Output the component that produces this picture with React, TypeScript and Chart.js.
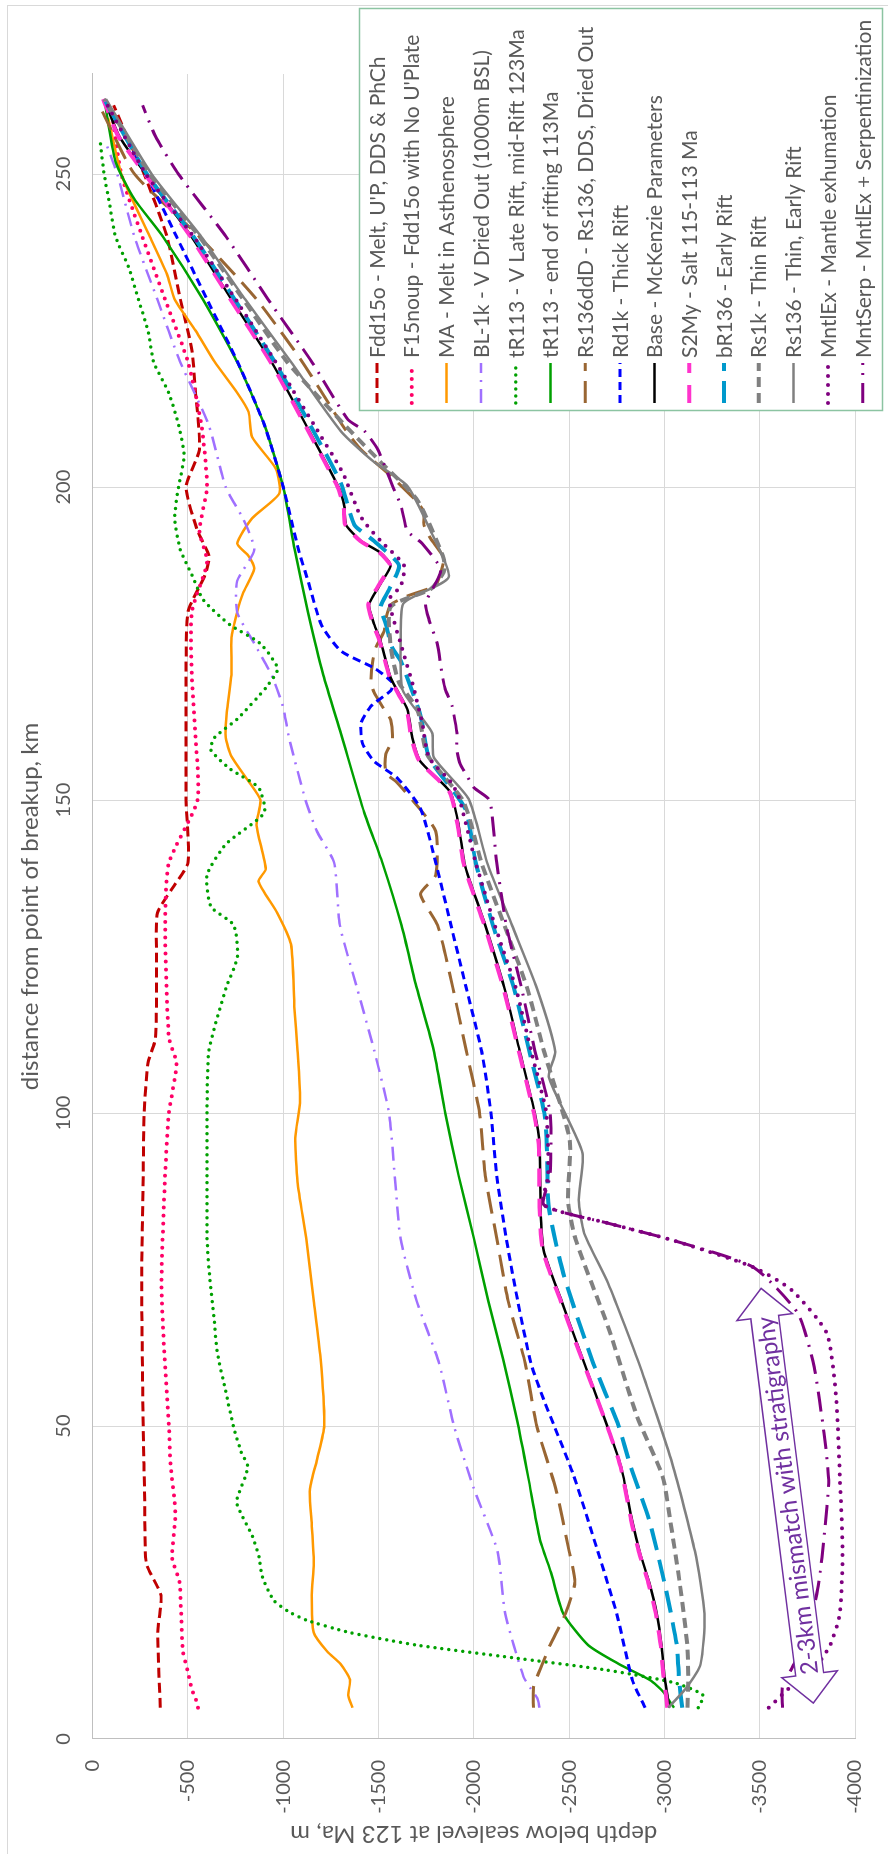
import React, { useEffect, useRef } from "react";
import { Chart, registerables } from "chart.js";

Chart.register(...registerables);

type Pt = [number, number];

// distance from point of breakup (km), depth below sealevel at 123 Ma (m)
const FDD15O: Pt[] = [[5,-355],[17,-341],[23,-358],[28,-282],[38,-273],[50,-265],[73,-257],[90,-265],[100,-270],[108,-290],[112,-330],[125,-335],[132,-340],[136,-420],[140,-500],[150,-490],[165,-490],[180,-500],[186,-590],[189,-610],[193,-550],[200,-490],[206,-560],[215,-540],[222,-520],[230,-460],[240,-390],[250,-270],[256,-180],[261,-110]];
const F15NOUP: Pt[] = [[5,-552],[6.4,-540],[7.7,-523],[9.2,-510],[10.5,-502],[14,-473],[21,-463],[25,-456],[29,-417],[36,-434],[44,-408],[50,-400],[62,-375],[73,-361],[90,-380],[100,-400],[108,-440],[112,-400],[130,-380],[140,-400],[150,-550],[160,-540],[170,-520],[180,-520],[188,-600],[193,-560],[200,-600],[210,-570],[220,-500],[230,-380],[240,-260],[250,-150],[260,-100]];
const MA: Pt[] = [[5,-1363],[7,-1341],[9.5,-1350],[12,-1300],[14,-1230],[17,-1160],[23,-1150],[28,-1160],[34,-1150],[40,-1140],[45,-1180],[50,-1215],[61,-1195],[70,-1160],[80,-1120],[89,-1075],[96,-1063],[102,-1088],[110,-1075],[117,-1058],[127,-1040],[132,-968],[137,-870],[139,-908],[146,-860],[150,-880],[153,-818],[157,-728],[160,-698],[164,-704],[170,-728],[176,-728],[180,-758],[183,-788],[187,-848],[189,-818],[191,-758],[195,-836],[199,-980],[203,-960],[208,-836],[212,-818],[215,-760],[220,-640],[225,-540],[230,-430],[234,-390],[240,-300],[250,-150],[259,-81]];
const BL1K: Pt[] = [[5,-2345],[6.5,-2333],[8,-2300],[10,-2260],[20,-2165],[30,-2124],[40,-2000],[50,-1896],[60,-1818],[70,-1700],[80,-1615],[90,-1585],[100,-1555],[110,-1477],[120,-1387],[130,-1297],[140,-1267],[145,-1177],[150,-1117],[160,-1030],[165,-998],[170,-938],[175,-848],[180,-758],[185,-758],[190,-848],[195,-788],[200,-698],[210,-608],[220,-459],[230,-339],[240,-219],[250,-129],[255,-69]];
const TR113_LATE: Pt[] = [[5,-3178],[7,-3203],[9,-3050],[11,-2700],[13,-2200],[15,-1700],[17,-1350],[19,-1120],[20.4,-1025],[22.2,-949],[26,-889],[29,-873],[32.4,-838],[36.4,-772],[38,-755],[43.4,-814],[45.8,-780],[50,-738],[55.8,-696],[61.7,-654],[67.4,-636],[73.3,-615],[80,-600],[90,-600],[100,-600],[110,-610],[120,-700],[125,-760],[130,-740],[133,-620],[138,-600],[143,-700],[148,-900],[152,-870],[155,-720],[158,-620],[160,-640],[163,-760],[168,-910],[171,-970],[175,-880],[178,-720],[182,-580],[186,-520],[190,-460],[195,-430],[200,-450],[205,-480],[210,-450],[215,-400],[220,-320],[225,-290],[230,-240],[235,-190],[240,-120],[245,-90],[250,-60],[255,-40]];
const TR113_END: Pt[] = [[5,-3050],[7.6,-2992],[9.4,-2925],[12,-2760],[15,-2600],[20,-2470],[26.6,-2405],[32,-2346],[41.7,-2286],[51,-2226],[60.6,-2154],[70,-2076],[80,-2000],[90,-1920],[100,-1850],[110,-1790],[120,-1700],[130,-1620],[140,-1520],[148,-1425],[160.6,-1303],[170,-1210],[180,-1130],[190,-1060],[200,-1000],[210,-900],[220,-758],[230,-578],[240,-369],[246,-219],[252,-120],[262,-60]];
const RS136DDD: Pt[] = [[5,-2313],[8.3,-2313],[12,-2360],[15,-2400],[20,-2480],[25,-2530],[30,-2500],[40,-2430],[50,-2330],[60,-2270],[70,-2180],[80,-2120],[90,-2060],[100,-2030],[110,-1960],[120,-1890],[130,-1810],[135,-1720],[138,-1800],[145,-1800],[149.7,-1686],[153,-1590],[154.3,-1538],[157.3,-1538],[159.6,-1572],[162.8,-1564],[164.5,-1529],[167.2,-1477],[168.8,-1460],[172.2,-1469],[174.4,-1486],[177,-1529],[178.8,-1537],[181.2,-1564],[182.6,-1651],[183.9,-1773],[184.7,-1807],[188.6,-1842],[191.8,-1773],[194,-1738],[196,-1738],[197.6,-1704],[201.8,-1564],[206,-1408],[209.4,-1321],[220,-1100],[230,-860],[240,-560],[250,-220],[260,-50]];
const RD1K: Pt[] = [[5,-2899],[9.4,-2832],[20,-2750],[30,-2650],[42.5,-2519],[54.2,-2367],[60,-2300],[70,-2230],[80,-2170],[90,-2120],[100,-2090],[110,-2040],[120,-1960],[130,-1880],[140,-1800],[148.6,-1721],[153.5,-1599],[156.2,-1477],[159,-1416],[162.3,-1408],[165,-1460],[167.5,-1564],[168.8,-1572],[171.1,-1477],[173.8,-1303],[178,-1200],[185,-1130],[190,-1080],[200,-1000],[210,-900],[220,-760],[230,-600],[240,-440],[250,-280],[260,-100]];
const BASE: Pt[] = [[5,-3026],[10,-3000],[15,-2985],[20,-2960],[25,-2920],[30,-2870],[35,-2830],[43.5,-2773],[50,-2700],[63.7,-2535],[70,-2460],[78,-2367],[85,-2350],[95,-2345],[100,-2320],[110,-2240],[120,-2160],[130,-2060],[137,-1980],[140,-1950],[146,-1920],[151.3,-1876],[156.2,-1719],[160,-1677],[164.5,-1651],[169.5,-1564],[175.4,-1511],[178.1,-1477],[181.2,-1450],[184.2,-1503],[187.5,-1564],[189.5,-1511],[191.4,-1408],[194,-1329],[196.8,-1321],[200,-1290],[210,-1118],[220,-938],[230,-728],[240,-519],[250,-279],[256,-140],[262,-60]];
const S2MY: Pt[] = [[5,-3015],[6.7,-3009],[10,-2995],[15,-2980],[20,-2955],[25,-2915],[30,-2865],[35,-2825],[43.5,-2770],[50,-2700],[63.7,-2530],[70,-2455],[78,-2362],[85,-2345],[95,-2340],[100,-2315],[110,-2235],[120,-2155],[130,-2055],[137,-1975],[140,-1945],[146,-1915],[151.3,-1872],[156.2,-1715],[160,-1672],[164.5,-1646],[169.5,-1560],[175.4,-1506],[178.1,-1472],[181.2,-1446],[184.2,-1498],[187.5,-1560],[189.5,-1506],[191.4,-1404],[194,-1325],[196.8,-1317],[200,-1285],[210,-1113],[220,-933],[230,-723],[240,-514],[250,-274],[256,-135],[262,-55]];
const BR136: Pt[] = [[5,-3093],[9.4,-3077],[15,-3065],[25,-3000],[35,-2920],[43.5,-2823],[50,-2760],[60.5,-2621],[74.4,-2469],[85,-2393],[94.6,-2383],[100,-2370],[110,-2290],[120,-2210],[130,-2100],[140,-2010],[148.6,-1955],[156.8,-1765],[163.4,-1721],[172.2,-1617],[174.3,-1572],[178.2,-1537],[180.9,-1511],[183.7,-1556],[187.5,-1607],[191.4,-1476],[194,-1373],[200.6,-1303],[210,-1140],[220,-955],[230,-745],[240,-530],[250,-285],[262,-60]];
const RS1K: Pt[] = [[5,-3121],[10,-3125],[15,-3120],[25,-3080],[35,-3030],[41.9,-2991],[51.5,-2857],[65.8,-2705],[79.7,-2535],[86,-2494],[95.7,-2503],[110,-2367],[120,-2280],[130,-2160],[140,-2040],[149.7,-1947],[157.3,-1755],[164.5,-1704],[168.8,-1607],[174.4,-1564],[180.9,-1564],[183.7,-1773],[186.4,-1842],[188.6,-1842],[197.9,-1704],[204,-1511],[210,-1320],[220,-1020],[230,-790],[240,-560],[250,-300],[262,-60]];
const RS136: Pt[] = [[5,-3020],[8,-3110],[12,-3190],[20,-3210],[30,-3160],[44,-3041],[59.4,-2874],[72.8,-2705],[80.8,-2579],[86.1,-2550],[93.6,-2570],[105.8,-2393],[109.8,-2427],[120,-2330],[130,-2200],[140,-2070],[150.2,-1972],[156.8,-1790],[160.7,-1782],[163.4,-1721],[167.7,-1625],[176.5,-1617],[181.5,-1633],[185.6,-1868],[193,-1773],[200.2,-1651],[204,-1477],[208.9,-1303],[220,-1040],[230,-800],[240,-570],[250,-310],[262,-70]];
const MNTLEX: Pt[] = [[5,-3548],[8,-3650],[11,-3780],[15,-3870],[20,-3920],[30,-3935],[41.4,-3921],[54.2,-3902],[64.8,-3852],[71.7,-3668],[75.4,-3465],[79.7,-3041],[82.4,-2705],[85.3,-2368],[90,-2390],[100,-2380],[110,-2300],[120,-2220],[130,-2110],[140,-2010],[150.5,-1921],[153,-1876],[156.8,-1765],[162.3,-1729],[167.7,-1686],[173.3,-1633],[182,-1556],[184.2,-1617],[187.5,-1633],[191.4,-1511],[195.2,-1408],[202.3,-1312],[210,-1160],[220,-960],[230,-750],[240,-530],[250,-280],[262,-60]];
const MNTSERP: Pt[] = [[5,-3619],[8.3,-3619],[12,-3680],[18,-3760],[25,-3810],[33,-3840],[41.4,-3862],[48.9,-3837],[59.4,-3786],[68,-3700],[75.4,-3465],[79.7,-3041],[82.4,-2705],[85.3,-2368],[90,-2400],[100,-2400],[110,-2320],[120,-2250],[130,-2170],[140,-2120],[148.2,-2094],[150.2,-2077],[152,-2000],[154,-1962],[155.7,-1929],[158,-1911],[160.7,-1911],[165,-1886],[167.7,-1850],[170,-1834],[175,-1808],[178.8,-1765],[181.5,-1747],[186.7,-1826],[191,-1729],[193,-1651],[197,-1618],[199.5,-1583],[206,-1496],[209,-1425],[210.8,-1339],[220,-1150],[230,-920],[240,-700],[250,-450],[256,-330],[261,-262]];

const X_TICKS = [0, 50, 100, 150, 200, 250];
const Y_TICKS = [0, -500, -1000, -1500, -2000, -2500, -3000, -3500, -4000];
const X_TITLE = "distance from point of breakup, km";
const Y_TITLE = "depth below sealevel at 123 Ma, m";
const NOTE = "2-3km mismatch with stratigraphy";
// ends of the double arrow beside the mantle-exhumation curves
const NOTE_FROM: Pt = [5.75, -3781];
const NOTE_TO: Pt = [72, -3507];

type Style = { label: string; data: Pt[]; color: string; width: number; dash: number[]; round?: boolean };

const SERIES: Style[] = [
  { label: "Fdd15o - Melt, U'P, DDS & PhCh", data: FDD15O, color: "#c00000", width: 3, dash: [10, 5] },
  { label: "F15noup - Fdd15o with No U'Plate", data: F15NOUP, color: "#ff0066", width: 4, dash: [0, 8], round: true },
  { label: "MA - Melt in Asthenosphere", data: MA, color: "#ff9900", width: 2.5, dash: [] },
  { label: "BL-1k - V Dried Out (1000m BSL)", data: BL1K, color: "#a070ff", width: 2.5, dash: [14, 7, 2, 7] },
  { label: "tR113 - V Late Rift, mid-Rift 123Ma", data: TR113_LATE, color: "#00a000", width: 3.5, dash: [0, 7], round: true },
  { label: "tR113 - end of rifting 113Ma", data: TR113_END, color: "#00a000", width: 2.5, dash: [] },
  { label: "Rs136ddD - Rs136, DDS, Dried Out", data: RS136DDD, color: "#996633", width: 3, dash: [22, 10] },
  { label: "Rd1k - Thick Rift", data: RD1K, color: "#0000ff", width: 3, dash: [8, 5] },
  { label: "Base - McKenzie Parameters", data: BASE, color: "#000000", width: 2.5, dash: [] },
  { label: "S2My - Salt 115-113 Ma", data: S2MY, color: "#ff33cc", width: 4, dash: [18, 12] },
  { label: "bR136 - Early Rift", data: BR136, color: "#0099cc", width: 4, dash: [22, 10] },
  { label: "Rs1k - Thin Rift", data: RS1K, color: "#808080", width: 4, dash: [10, 6] },
  { label: "Rs136 - Thin, Early Rift", data: RS136, color: "#808080", width: 2.5, dash: [] },
  { label: "MntlEx - Mantle exhumation", data: MNTLEX, color: "#7f007f", width: 4, dash: [0, 9], round: true },
  { label: "MntSerp - MntlEx + Serpentinization", data: MNTSERP, color: "#7f007f", width: 3, dash: [20, 8, 2, 8] },
];

const W = 1854;
const H = 888;
const FONT = "Lato, 'Open Sans', sans-serif";
const TEXT = "#595959";
const PURPLE = "#7030a0";

// frame, legend and the mismatch arrow
const decor = {
  id: "decor",
  beforeDraw(chart: any) {
    const c = chart.ctx;
    c.save();
    c.fillStyle = "#ffffff";
    c.fillRect(0, 0, chart.width, chart.height);
    c.strokeStyle = "#d9d9d9";
    c.lineWidth = 1;
    c.strokeRect(-2, 7.5, 1850.5, 884);
    c.restore();
  },
  afterDraw(chart: any) {
    const c = chart.ctx;
    const xs = chart.scales.x;
    const ys = chart.scales.y;
    c.save();
    // legend
    const bx = 1443, by = 359, bw = 402, bh = 523;
    c.fillStyle = "#ffffff";
    c.fillRect(bx, by, bw, bh);
    c.strokeStyle = "#8cc4a2";
    c.lineWidth = 1.5;
    c.strokeRect(bx + 0.5, by + 0.5, bw, bh);
    c.font = `21px ${FONT}`;
    c.textBaseline = "middle";
    c.textAlign = "left";
    SERIES.forEach((s, i) => {
      const yy = 377 + i * 34.7;
      c.beginPath();
      c.strokeStyle = s.color;
      c.lineWidth = s.width;
      c.lineCap = s.round ? "round" : "butt";
      c.setLineDash(s.dash);
      c.moveTo(1451, yy);
      c.lineTo(1491, yy);
      c.stroke();
      c.setLineDash([]);
      c.fillStyle = TEXT;
      c.fillText(s.label, 1496, yy + 1);
    });
    // double block arrow with the note
    const p1 = { x: xs.getPixelForValue(NOTE_FROM[0]), y: ys.getPixelForValue(NOTE_FROM[1]) };
    const p2 = { x: xs.getPixelForValue(NOTE_TO[0]), y: ys.getPixelForValue(NOTE_TO[1]) };
    const ang = Math.atan2(p2.y - p1.y, p2.x - p1.x);
    const len = Math.hypot(p2.x - p1.x, p2.y - p1.y);
    c.translate(p1.x, p1.y);
    c.rotate(ang);
    const hl = 29, hw = 28, sw = 14;
    c.beginPath();
    c.moveTo(0, 0);
    c.lineTo(hl, -hw);
    c.lineTo(hl, -sw);
    c.lineTo(len - hl, -sw);
    c.lineTo(len - hl, -hw);
    c.lineTo(len, 0);
    c.lineTo(len - hl, hw);
    c.lineTo(len - hl, sw);
    c.lineTo(hl, sw);
    c.lineTo(hl, hw);
    c.closePath();
    c.fillStyle = "#ffffff";
    c.fill();
    c.strokeStyle = PURPLE;
    c.lineWidth = 1.5;
    c.stroke();
    c.fillStyle = PURPLE;
    c.font = `24px ${FONT}`;
    c.textAlign = "center";
    c.textBaseline = "middle";
    c.fillText(NOTE, len * 0.5, 1);
    c.restore();
  },
};

export default function App() {
  const ref = useRef<HTMLCanvasElement>(null);
  useEffect(() => {
    if (!ref.current) return;
    const chart = new Chart(ref.current, {
      type: "scatter",
      data: {
        datasets: SERIES.map((s, i) => ({
          label: s.label,
          data: s.data.map(([x, y]) => ({ x, y })),
          showLine: true,
          borderColor: s.color,
          backgroundColor: s.color,
          borderWidth: s.width,
          borderDash: s.dash,
          borderCapStyle: s.round ? "round" : "butt",
          borderJoinStyle: "round",
          pointRadius: 0,
          pointHoverRadius: 0,
          tension: 0.2,
          order: -i,
        })),
      },
      plugins: [decor],
      options: {
        responsive: false,
        devicePixelRatio: 1,
        animation: false,
        events: [],
        layout: { padding: { left: 0, top: 0, right: 74, bottom: 5.7 } },
        plugins: { legend: { display: false }, tooltip: { enabled: false } },
        scales: {
          x: {
            type: "linear",
            position: "top",
            min: 0,
            max: 266,
            afterFit: (s: any) => { s.height = 92.7; },
            afterBuildTicks: (s: any) => { s.ticks = X_TICKS.map((v) => ({ value: v })); },
            ticks: { font: { family: FONT, size: 20 }, color: TEXT, padding: 17, maxRotation: 0, includeBounds: false, callback: (v: any) => String(v) },
            grid: { color: "#d9d9d9", lineWidth: 1, drawTicks: false },
            border: { color: "#bfbfbf", width: 1 },
            title: { display: true, text: X_TITLE, color: TEXT, font: { family: FONT, size: 24 }, padding: { top: 16, bottom: 0 } },
          },
          y: {
            type: "linear",
            position: "left",
            min: -4000,
            max: 0,
            afterFit: (s: any) => { s.width = 115; },
            afterBuildTicks: (s: any) => { s.ticks = Y_TICKS.map((v) => ({ value: v })); },
            ticks: { font: { family: FONT, size: 20 }, color: TEXT, padding: 21, includeBounds: false, callback: (v: any) => String(v) },
            grid: { color: "#d9d9d9", lineWidth: 1, drawTicks: false },
            border: { color: "#bfbfbf", width: 1 },
            title: { display: true, text: Y_TITLE, color: TEXT, font: { family: FONT, size: 24 }, padding: { top: 6, bottom: 0 } },
          },
        },
      },
    });
    return () => chart.destroy();
  }, []);
  return (
    <div style={{ position: "absolute", left: 0, top: 0, width: 888, height: 1854, overflow: "hidden", background: "#fff" }}>
      <div style={{ position: "absolute", left: 0, top: 0, width: W, height: H, transformOrigin: "0 0", transform: `translateY(${W}px) rotate(-90deg)` }}>
        <canvas ref={ref} width={W} height={H} style={{ display: "block", width: W, height: H }} />
      </div>
    </div>
  );
}
